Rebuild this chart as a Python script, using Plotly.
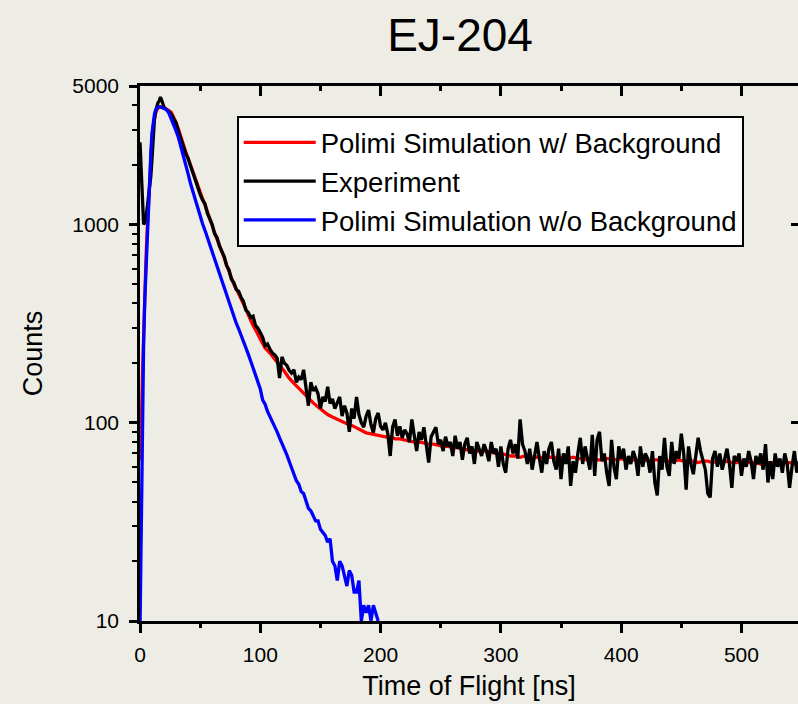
import math
import plotly.graph_objects as go

# ---------------- data ----------------
# Experiment: 1 ns bins up to 21 ns, then 2 ns bins
t_exp = list(range(0, 22)) + list(range(22, 549, 2))
counts_exp = [
    2600, 1800, 1250, 1000, 1030, 1090, 1220, 1370, 1500, 1750, 2150,
    2750, 3400, 3750, 3950, 4130, 4200, 4400, 4250, 3980, 3900, 3850,
    3800, 3700, 3600, 3420, 3250, 2950, 2700, 2500, 2280, 2150,
    1950, 1820, 1680, 1530, 1420, 1330, 1270, 1140, 1060, 1000,
    900, 860, 780, 740, 690, 620, 590, 530, 510, 470,
    460, 430, 410, 370, 360, 340, 345, 310, 300, 285,
    270, 245, 250, 235, 225, 220, 212, 168, 215, 200,
    195, 184, 178, 185, 160, 170, 165, 185, 150, 122,
    160, 145, 150, 140, 118, 135, 128, 152, 125, 132,
    118, 128, 135, 108, 122, 112, 90, 118, 105, 135,
    110, 100, 95, 108, 116, 98, 89, 105, 112, 96,
    92, 100, 88, 68, 95, 104, 86, 96, 84, 92,
    88, 80, 104, 86, 72, 90, 82, 95, 76, 63,
    85, 90, 95, 78, 82, 72, 85, 76, 80, 68,
    86, 74, 80, 65, 78, 84, 70, 76, 62, 80,
    74, 68, 78, 72, 64, 80, 70, 74, 60, 76,
    62, 56, 74, 82, 70, 78, 66, 104, 78, 72,
    62, 74, 58, 70, 80, 66, 56, 72, 62, 74,
    80, 64, 58, 74, 52, 70, 62, 76, 48, 64,
    56, 70, 84, 62, 76, 66, 58, 87, 54, 82,
    90, 64, 70, 56, 48, 82, 60, 52, 76, 66,
    74, 58, 68, 62, 72, 66, 54, 76, 60, 70,
    66, 56, 72, 50, 43, 68, 58, 84, 60, 54,
    80, 62, 72, 66, 88, 70, 46, 76, 62, 55,
    70, 84, 72, 64, 58, 44, 42, 66, 72, 60,
    70, 58, 66, 74, 62, 47, 68, 64, 70, 54,
    66, 60, 72, 64, 52, 68, 62, 70, 58, 78,
    50, 64, 52, 70, 60, 66, 56, 70, 62, 47,
    60, 72, 56, 64,
]

# Polimi simulation with background
t_sim_bg = list(range(0, 22)) + list(range(22, 101, 2)) + list(range(104, 549, 4))
counts_sim_bg = [
    65, 90, 170, 300, 470, 680, 950, 1250, 1650, 2200, 2750,
    3150, 3450, 3650, 3800, 3880, 3920, 3930, 3920, 3900, 3880, 3850,
    3830, 3760, 3680, 3480, 3270, 3020, 2750, 2530, 2330, 2160,
    1990, 1840, 1700, 1570, 1450, 1350, 1260, 1170, 1070, 990,
    910, 850, 790, 735, 680, 625, 575, 530, 500, 475,
    450, 425, 400, 375, 350, 325, 310, 295, 280, 265,
    238, 225, 208, 195, 182, 168, 158, 149, 141, 134,
    126, 120, 115, 110, 107, 104, 101, 99, 97, 94,
    91, 89, 88, 87, 86, 85, 85, 83, 83, 82,
    81, 80, 80, 79, 78, 78, 77, 76, 76, 75,
    75, 74, 73, 73, 72, 72, 72, 71, 70, 70,
    69, 68, 68, 67, 68, 67, 67, 67, 66, 67,
    67, 66, 67, 66, 67, 66, 66, 65, 66, 65,
    65, 66, 66, 65, 66, 65, 65, 65, 64, 65,
    64, 65, 65, 64, 64, 64, 65, 64, 64, 64,
    63, 64, 64, 63, 64, 63, 64, 63, 63, 64,
    63, 63, 63, 62, 63, 63, 63, 62, 63, 63,
    62, 62,
]

# Polimi simulation without background
t_sim = list(range(0, 22)) + list(range(22, 199, 2))
counts_sim = [
    9, 30, 120, 250, 420, 620, 880, 1180, 1550, 2300, 2900,
    3300, 3600, 3780, 3880, 3920, 3930, 3920, 3900, 3870, 3850, 3820,
    3800, 3650, 3430, 3220, 2970, 2740, 2480, 2250, 2010, 1800,
    1610, 1460, 1330, 1200, 1100, 1010, 935, 860, 790, 725,
    670, 615, 565, 520, 478, 440, 400, 370, 345, 318,
    298, 278, 258, 240, 222, 205, 190, 174, 160, 148,
    130, 124, 114, 108, 101, 96, 90, 84, 79, 74,
    69, 64, 59, 55, 51, 49, 45, 44, 40, 37,
    36, 34, 32, 32, 29, 28, 27, 25, 26, 20,
    19, 16, 20, 19, 17, 15, 18, 17, 14, 14,
    16, 10, 12, 11, 12, 10, 12, 11, 10,
]

series_names = ["Polimi Simulation w/ Background", "Experiment",
                "Polimi Simulation w/o Background"]
series_colors = ["#FF0000", "#000000", "#0000FF"]

x_ticks = [0, 100, 200, 300, 400, 500]
x_minor = [50, 150, 250, 350, 450, 550]
y_ticks = [10, 100, 1000, 5000]
y_minor = [20, 30, 40, 50, 60, 70, 80, 90,
           200, 300, 400, 500, 600, 700, 800, 900,
           2000, 3000, 4000]
y_right_ticks = [100, 1000]
x_range = [0, 547]
y_range = [10, 5000]

# ---------------- figure ----------------
BG = "#EEEDE5"
FONT = "Liberation Sans, Arial, sans-serif"

fig = go.Figure()
for t, c, name, col in zip([t_sim_bg, t_exp, t_sim],
                           [counts_sim_bg, counts_exp, counts_sim],
                           series_names, series_colors):
    fig.add_trace(go.Scatter(x=t, y=c, mode="lines", name=name,
                             line=dict(color=col, width=3.3)))

# empty trace so that the mirrored top / right axes get drawn
fig.add_trace(go.Scatter(x=[], y=[], xaxis="x2", yaxis="y2",
                         showlegend=False, hoverinfo="skip"))

ylog = [math.log10(y_range[0]), math.log10(y_range[1])]

fig.update_layout(
    width=798, height=704,
    margin=dict(l=140, r=0, t=86, b=83),
    paper_bgcolor=BG, plot_bgcolor=BG,
    font=dict(family=FONT, color="black"),
    title=dict(text="EJ-204", font=dict(size=46, color="black"),
               x=460 / 798, xref="container", xanchor="center",
               y=1 - 35 / 704, yref="container", yanchor="middle"),
    legend=dict(x=0.147, y=0.944, xanchor="left", yanchor="top",
                bgcolor="white", bordercolor="black", borderwidth=2,
                font=dict(size=27.5, color="black"), itemwidth=72),
    xaxis=dict(range=x_range, showline=True, linecolor="black", linewidth=2.5,
               ticks="outside", ticklen=9, tickwidth=2.5, tickcolor="black",
               tickvals=x_ticks, tickfont=dict(size=21),
               minor=dict(tickvals=x_minor, ticks="outside", ticklen=4,
                          tickwidth=2.5, tickcolor="black"),
               showgrid=False, zeroline=False, ticklabelstandoff=4,
               title=dict(text="Time of Flight [ns]", font=dict(size=27),
                          standoff=12)),
    xaxis2=dict(range=x_range, overlaying="x", side="top", anchor="y2",
                showline=True, linecolor="black", linewidth=2.5,
                ticks="inside", ticklen=10, tickwidth=2.5, tickcolor="black",
                tickvals=x_ticks, showticklabels=False, showgrid=False,
                zeroline=False,
                minor=dict(tickvals=x_minor, ticks="inside", ticklen=5,
                           tickwidth=2.5, tickcolor="black")),
    yaxis=dict(type="log", range=ylog, showline=True, linecolor="black",
               linewidth=2.5, ticks="outside", ticklen=8, tickwidth=2.5,
               tickcolor="black", tickvals=y_ticks,
               ticktext=[str(v) for v in y_ticks], tickfont=dict(size=21),
               minor=dict(tickvals=y_minor, ticks="outside", ticklen=5,
                          tickwidth=2, tickcolor="black"),
               showgrid=False, zeroline=False, ticklabelstandoff=6,
               title=dict(text="Counts", font=dict(size=27), standoff=22)),
    yaxis2=dict(type="log", range=ylog, overlaying="y", side="right",
                anchor="x2", showline=False, ticks="inside", ticklen=7,
                tickwidth=2.5, tickcolor="black", tickvals=y_right_ticks,
                showticklabels=False, showgrid=False, zeroline=False),
)

fig.write_html("out.html")
